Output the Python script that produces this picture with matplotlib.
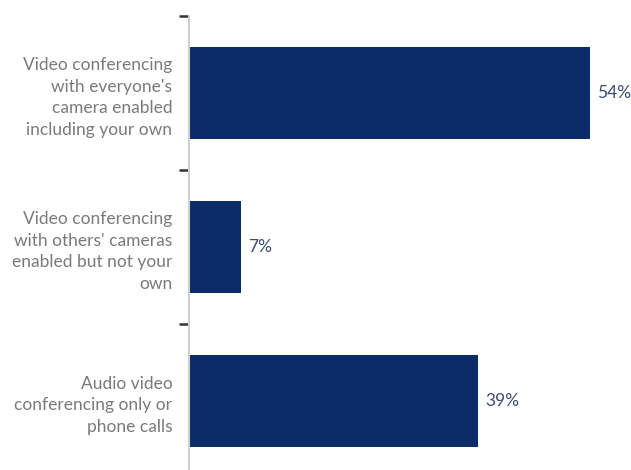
import matplotlib
matplotlib.use("Agg")
import matplotlib.pyplot as plt

categories = [
    "Video conferencing\nwith everyone's\ncamera enabled\nincluding your own",
    "Video conferencing\nwith others' cameras\nenabled but not your\nown",
    "Audio video\nconferencing only or\nphone calls",
]
values = [54, 7, 39]
value_labels = ["54%", "7%", "39%"]

bar_color = "#0b2c68"
label_color = "#7a7a7a"
value_color = "#3c4d72"

fig = plt.figure(figsize=(6.31, 4.70), dpi=100)
ax = fig.add_axes([189/631, -8/470, 445/631, 462/470])

y = list(range(len(categories)))
ax.barh(y, values, height=0.6, color=bar_color)
ax.set_xlim(0, 60)
ax.set_ylim(2.5, -0.5)

for yi, v, lab in zip(y, values, value_labels):
    ax.text(v + 0.95, yi, lab, va="center", ha="left", color=value_color,
            fontsize=12.5, family="Lato")

ax.set_yticks([-0.5, 0.5, 1.5, 2.5])
ax.set_yticklabels([])
ax.set_yticks(y, minor=True)
ax.set_yticklabels(categories, minor=True, fontsize=12.5, color=label_color,
                   family="Lato", ha="right", linespacing=1.45)
ax.tick_params(axis="y", which="major", length=7.5, width=1.8, color="#333333", direction="out", pad=2)
ax.tick_params(axis="y", which="minor", length=0, pad=12)
ax.set_xticks([])
for s in ["top", "right", "bottom"]:
    ax.spines[s].set_visible(False)
ax.spines["left"].set_color("#cfcfcf")
ax.spines["left"].set_linewidth(1.5)

fig.savefig("out.png", dpi=100)
